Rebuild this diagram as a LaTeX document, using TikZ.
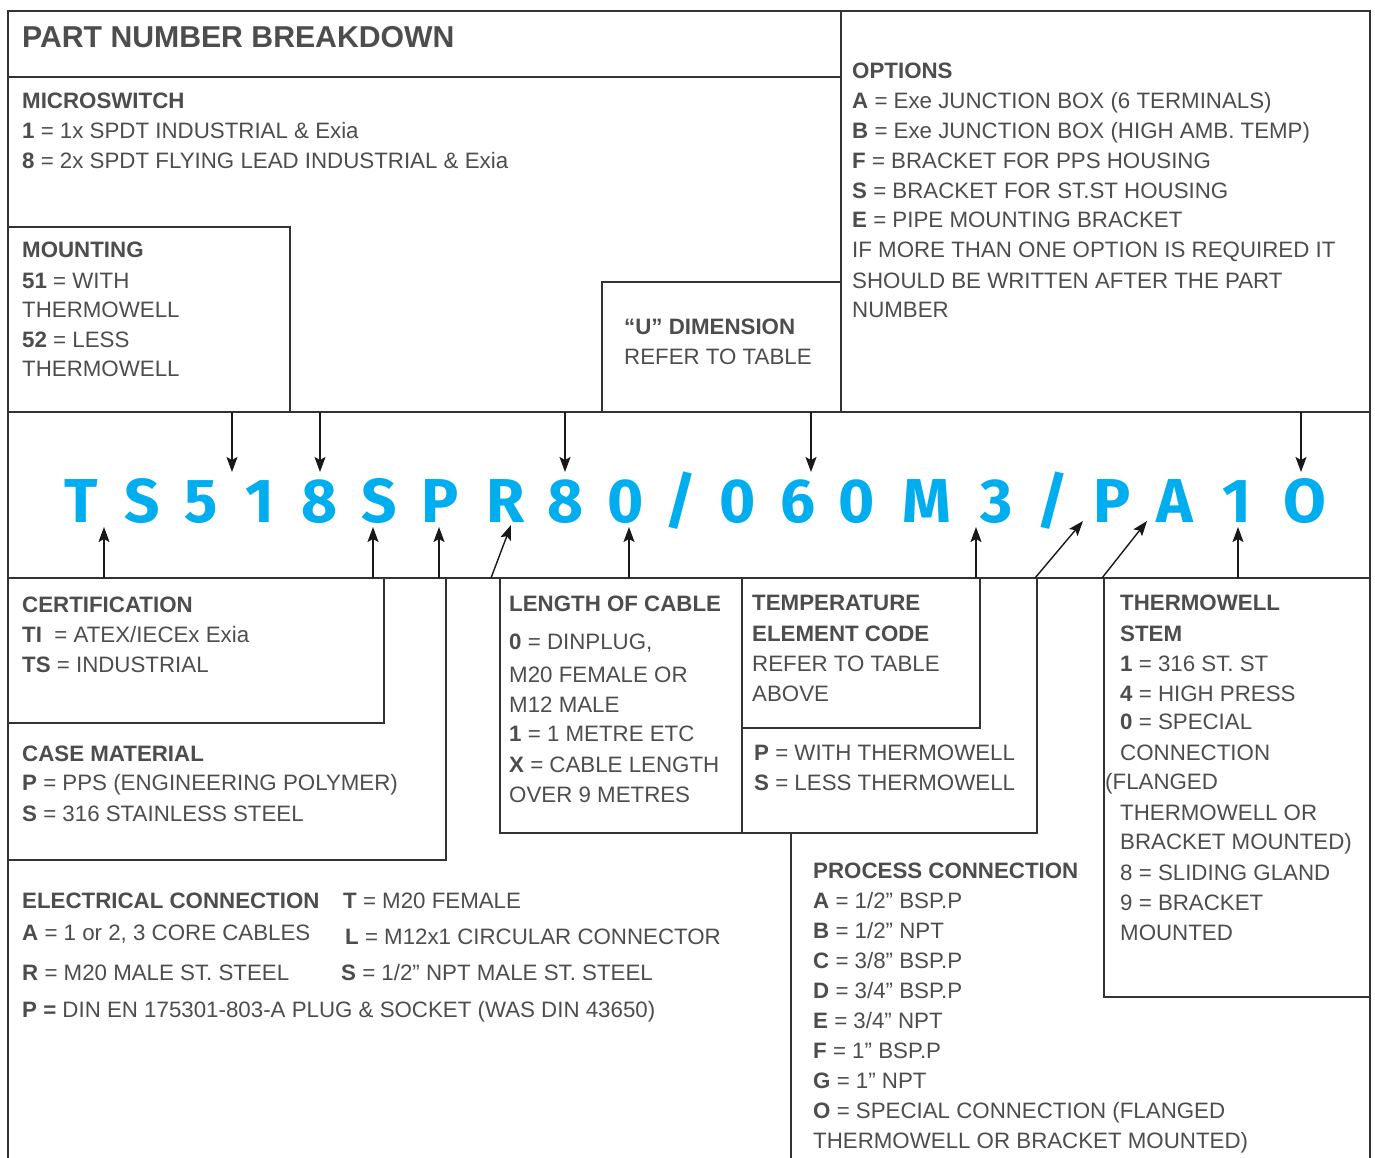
\documentclass[tikz,border=0pt]{standalone}
\usepackage{fontspec}
\setmainfont{Liberation Sans}
\newfontfamily\bigfont{Fira Sans}
\usetikzlibrary{arrows.meta}
\definecolor{txt}{HTML}{4D4D4D}
\definecolor{cyanpn}{HTML}{00AEEF}
\definecolor{ln}{HTML}{333333}
\newcommand\mytext[4]{\node[tl] (#1) at (#2,#3) {#4};}
\newcommand\pnch[3]{\node[pn] (#1) at (#2,522) {#3};}
\begin{document}
\begin{tikzpicture}[x=1pt,y=-1pt,
  frame/.style={draw=ln, line width=1.8pt},
  arr/.style={draw=black!90, line width=1.4pt, -{Stealth[length=15pt,width=11pt,inset=3pt]}},
  tl/.style={anchor=base west, inner sep=0pt, text=txt, font=\fontsize{22.3}{26}\selectfont},
  ttl/.style={anchor=base west, inner sep=0pt, text=txt, font=\fontsize{30.2}{34}\selectfont\bfseries},
  pn/.style={anchor=base, inner sep=0pt, text=cyanpn, font=\bigfont\bfseries\fontsize{62}{70}\selectfont}]
\fill[white] (0,0) rectangle (1375,1158);
\useasboundingbox (0,0) rectangle (1375,1158);

% frame lines
\draw[frame] (8,1158) -- (8,11) -- (1370,11) -- (1370,1158);
\draw[frame] (8,77) -- (841,77);
\draw[frame] (841,11) -- (841,412);
\draw[frame] (8,227) -- (290,227) -- (290,412);
\draw[frame] (602,412) -- (602,282) -- (841,282);
\draw[frame] (8,412) -- (1370,412);
\draw[frame] (8,578) -- (1370,578);
\draw[frame] (8,723) -- (384,723) -- (384,578);
\draw[frame] (8,860) -- (446,860) -- (446,578);
\draw[frame] (500,578) -- (500,833) -- (1037,833) -- (1037,578);
\draw[frame] (742,578) -- (742,833);
\draw[frame] (742,728) -- (980,728) -- (980,578);
\draw[frame] (791,833) -- (791,1158);
\draw[frame] (1104,578) -- (1104,997) -- (1370,997);

% title
\node[ttl] (title) at (22,48) {PART NUMBER BREAKDOWN};

% microswitch
\mytext{mic0}{22}{109}{\textbf{MICROSWITCH}}
\mytext{mic1}{22}{139}{\textbf{1} = 1x SPDT INDUSTRIAL \& Exia}
\mytext{mic2}{22}{169}{\textbf{8} = 2x SPDT FLYING LEAD INDUSTRIAL \& Exia}

% mounting
\mytext{mou0}{22}{258}{\textbf{MOUNTING}}
\mytext{mou1}{22}{288}{\textbf{51} = WITH}
\mytext{mou2}{22}{317}{THERMOWELL}
\mytext{mou3}{22}{347}{\textbf{52} = LESS}
\mytext{mou4}{22}{376}{THERMOWELL}

% U dimension
\mytext{ud0}{624}{334}{\textbf{“U” DIMENSION}}
\mytext{ud1}{624}{364}{REFER TO TABLE}

% options
\mytext{op0}{852}{79}{\textbf{OPTIONS}}
\mytext{op1}{852}{109}{\textbf{A} = Exe JUNCTION BOX (6 TERMINALS)}
\mytext{op2}{852}{139}{\textbf{B} = Exe JUNCTION BOX (HIGH AMB. TEMP)}
\mytext{op3}{852}{169}{\textbf{F} = BRACKET FOR PPS HOUSING}
\mytext{op4}{852}{199}{\textbf{S} = BRACKET FOR ST.ST HOUSING}
\mytext{op5}{852}{228}{\textbf{E} = PIPE MOUNTING BRACKET}
\mytext{op6}{852}{258}{IF MORE THAN ONE OPTION IS REQUIRED IT}
\mytext{op7}{852}{288}{SHOULD BE WRITTEN AFTER THE PART}
\mytext{op8}{852}{317}{NUMBER}

% part number
\pnch{p1}{81}{T}
\pnch{p2}{142}{S}
\pnch{p3}{201}{5}
\pnch{p4}{260}{1}
\pnch{p5}{320}{8}
\pnch{p6}{379}{S}
\pnch{p7}{440}{P}
\pnch{p8}{506}{R}
\pnch{p9}{566}{8}
\pnch{p10}{626}{0}
\pnch{p11}{681}{/}
\pnch{p12}{738}{0}
\pnch{p13}{798}{6}
\pnch{p14}{857}{0}
\pnch{p15}{927}{M}
\pnch{p16}{997}{3}
\pnch{p17}{1053}{/}
\pnch{p18}{1112}{P}
\pnch{p19}{1175}{A}
\pnch{p20}{1237}{1}
\pnch{p21}{1305}{O}

% arrow coordinates
\coordinate (d1s) at (232,412); \coordinate (d1e) at (232,472);
\coordinate (d2s) at (320,412); \coordinate (d2e) at (320,472);
\coordinate (d3s) at (565,412); \coordinate (d3e) at (565,472);
\coordinate (d4s) at (811,412); \coordinate (d4e) at (811,472);
\coordinate (d5s) at (1301,412); \coordinate (d5e) at (1301,472);
\coordinate (u1s) at (104,578); \coordinate (u1e) at (104,527);
\coordinate (u2s) at (373,578); \coordinate (u2e) at (373,527);
\coordinate (u3s) at (439,578); \coordinate (u3e) at (439,527);
\coordinate (u4s) at (629,578); \coordinate (u4e) at (629,527);
\coordinate (u5s) at (976,578); \coordinate (u5e) at (976,527);
\coordinate (u6s) at (1238,578); \coordinate (u6e) at (1238,527);
\coordinate (g1s) at (491,578); \coordinate (g1e) at (511,525);
\coordinate (g2s) at (1035,578); \coordinate (g2e) at (1083,521);
\coordinate (g3s) at (1102,578); \coordinate (g3e) at (1147,521);
\foreach \a in {d1,d2,d3,d4,d5,u1,u2,u3,u4,u5,u6,g1,g2,g3}
  \draw[arr] (\a s) -- (\a e);

% certification
\mytext{ce0}{22}{612}{\textbf{CERTIFICATION}}
\mytext{ce1}{22}{642}{\textbf{TI}\ \ = ATEX/IECEx Exia}
\mytext{ce2}{22}{672}{\textbf{TS} = INDUSTRIAL}

% case material
\mytext{ca0}{22}{761}{\textbf{CASE MATERIAL}}
\mytext{ca1}{22}{790}{\textbf{P} = PPS (ENGINEERING POLYMER)}
\mytext{ca2}{22}{821}{\textbf{S} = 316 STAINLESS STEEL}

% length of cable
\mytext{lc0}{509}{611}{\textbf{LENGTH OF CABLE}}
\mytext{lc1}{509}{649}{\textbf{0} = DINPLUG,}
\mytext{lc2}{509}{682}{M20 FEMALE OR}
\mytext{lc3}{509}{712}{M12 MALE}
\mytext{lc4}{509}{741}{\textbf{1} = 1 METRE ETC}
\mytext{lc5}{509}{772}{\textbf{X} = CABLE LENGTH}
\mytext{lc6}{509}{802}{OVER 9 METRES}

% temperature element
\mytext{te0}{752}{610}{\textbf{TEMPERATURE}}
\mytext{te1}{752}{641}{\textbf{ELEMENT CODE}}
\mytext{te2}{752}{671}{REFER TO TABLE}
\mytext{te3}{752}{701}{ABOVE}
\mytext{tw1}{754}{760}{\textbf{P} = WITH THERMOWELL}
\mytext{tw2}{754}{790}{\textbf{S} = LESS THERMOWELL}

% thermowell stem
\mytext{ts0}{1120}{610}{\textbf{THERMOWELL}}
\mytext{ts1}{1120}{641}{\textbf{STEM}}
\mytext{ts2}{1120}{671}{\textbf{1} = 316 ST. ST}
\mytext{ts3}{1120}{701}{\textbf{4} = HIGH PRESS}
\mytext{ts4}{1120}{729}{\textbf{0} = SPECIAL}
\mytext{ts5}{1120}{760}{CONNECTION}
\mytext{ts6}{1105}{789}{(FLANGED}
\mytext{ts7}{1120}{820}{THERMOWELL OR}
\mytext{ts8}{1120}{849}{BRACKET MOUNTED)}
\mytext{ts9}{1120}{880}{8 = SLIDING GLAND}
\mytext{ts10}{1120}{910}{9 = BRACKET}
\mytext{ts11}{1120}{940}{MOUNTED}

% process connection
\mytext{pc0}{813}{878}{\textbf{PROCESS CONNECTION}}
\mytext{pc1}{813}{908}{\textbf{A} = 1/2” BSP.P}
\mytext{pc2}{813}{938}{\textbf{B} = 1/2” NPT}
\mytext{pc3}{813}{968}{\textbf{C} = 3/8” BSP.P}
\mytext{pc4}{813}{998}{\textbf{D} = 3/4” BSP.P}
\mytext{pc5}{813}{1028}{\textbf{E} = 3/4” NPT}
\mytext{pc6}{813}{1058}{\textbf{F} = 1” BSP.P}
\mytext{pc7}{813}{1088}{\textbf{G} = 1” NPT}
\mytext{pc8}{813}{1118}{\textbf{O} = SPECIAL CONNECTION (FLANGED}
\mytext{pc9}{813}{1148}{THERMOWELL OR BRACKET MOUNTED)}

% electrical connection
\mytext{ec0}{22}{908}{\textbf{ELECTRICAL CONNECTION}}
\mytext{ec1}{343}{908}{\textbf{T} = M20 FEMALE}
\mytext{ec2}{22}{940}{\textbf{A} = 1 or 2, 3 CORE CABLES}
\mytext{ec3}{345}{944}{\textbf{L} = M12x1 CIRCULAR CONNECTOR}
\mytext{ec4}{22}{980}{\textbf{R} = M20 MALE ST. STEEL}
\mytext{ec5}{341}{980}{\textbf{S} = 1/2” NPT MALE ST. STEEL}
\mytext{ec6}{22}{1017}{\textbf{P =} DIN EN 175301-803-A PLUG \& SOCKET (WAS DIN 43650)}
\end{tikzpicture}
\end{document}
